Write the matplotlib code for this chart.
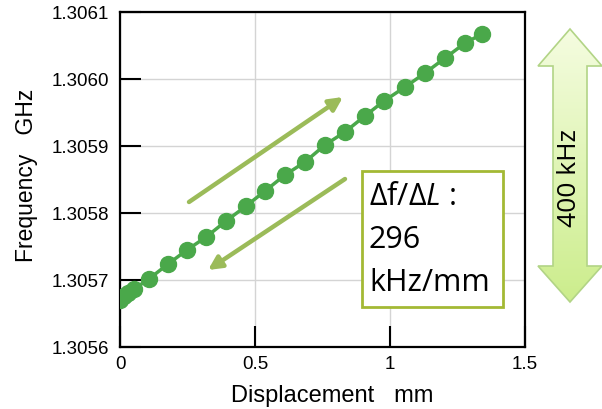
import numpy as np
import matplotlib
matplotlib.use("Agg")
import matplotlib.pyplot as plt
from matplotlib.patches import Polygon, Rectangle, FancyArrowPatch

# ---- data ----
displacement = [0.0, 0.015, 0.03, 0.052, 0.107, 0.178, 0.248, 0.319, 0.393, 0.467,
                0.537, 0.611, 0.685, 0.759, 0.833, 0.907, 0.978, 1.056, 1.130,
                1.204, 1.278, 1.341]
frequency = [1.3056701, 1.3056761, 1.3056806, 1.3056866, 1.3057015, 1.3057239,
             1.3057448, 1.3057642, 1.3057881, 1.3058104, 1.3058328, 1.3058567,
             1.3058761, 1.3059015, 1.3059209, 1.3059448, 1.3059672, 1.3059881,
             1.3060090, 1.3060313, 1.3060537, 1.3060672]
xticks = [0, 0.5, 1, 1.5]
xticklabels = ["0", "0.5", "1", "1.5"]
yticks = [1.3056, 1.3057, 1.3058, 1.3059, 1.3060, 1.3061]
yticklabels = ["1.3056", "1.3057", "1.3058", "1.3059", "1.3060", "1.3061"]
slope_lines = ["296", "kHz/mm"]
span_label = "400 kHz"
xlabel = "Displacement   mm"
ylabel = "Frequency   GHz"

W, H = 602, 410
plt.rcParams['font.family'] = ['Liberation Sans', 'DejaVu Sans']
plt.rcParams['mathtext.fontset'] = 'custom'
plt.rcParams['mathtext.rm'] = 'Open Sans'
plt.rcParams['mathtext.it'] = 'Open Sans:italic'

fig = plt.figure(figsize=(W / 100, H / 100), dpi=100)

def fx(px):
    return px / W

def fy(py):
    return 1 - py / H

ax = fig.add_axes([fx(120), fy(348), fx(525) - fx(120), fy(13) - fy(348)])
ax.set_xlim(0, 1.5)
ax.set_ylim(1.3056, 1.3061)
ax.set_xticks(xticks)
ax.set_xticklabels(xticklabels)
ax.set_yticks(yticks)
ax.set_yticklabels(yticklabels)
ax.grid(True, color="#d4d4d4", linewidth=1.0)
ax.set_axisbelow(True)
ax.tick_params(direction="in", length=15, width=1.5, labelsize=13.5, color="black")
ax.tick_params(axis="y", pad=8)
ax.tick_params(axis="x", pad=6)
for s in ax.spines.values():
    s.set_linewidth(1.6)
fig.text(fx(332), fy(402), xlabel, fontsize=17, ha="center", va="baseline")
fig.text(fx(27), fy(175), ylabel, fontsize=16.5, ha="center", va="center", rotation=90)

ax.plot(displacement, frequency, color="#4aa84a", linewidth=2.5, marker="o",
        markersize=11.5, markerfacecolor="#4aa84a", markeredgecolor="#4aa84a", zorder=3)

# direction arrows (figure pixel coords)
arrow_col = "#9bbb59"
for (x0, y0, x1, y1) in [(189, 203, 343, 98), (345, 180, 208, 271)]:
    a = FancyArrowPatch((fx(x0), fy(y0)), (fx(x1), fy(y1)), transform=fig.transFigure,
                        arrowstyle="-|>,head_length=8,head_width=4", color=arrow_col,
                        linewidth=3.2, mutation_scale=1, shrinkA=0, shrinkB=0, zorder=4)
    fig.patches.append(a)

# text box
box = Rectangle((fx(362), fy(308)), fx(503) - fx(362), fy(172) - fy(308),
                transform=fig.transFigure, facecolor="white", edgecolor="#a3b934",
                linewidth=2.0, zorder=5)
fig.patches.append(box)
fig.text(fx(369), fy(197), r"$\mathrm{\Delta f/\Delta}L$ :", fontsize=22,
         family="Open Sans", va="center", ha="left", zorder=6)
fig.text(fx(369), fy(240), slope_lines[0], fontsize=22, family="Open Sans",
         va="center", ha="left", zorder=6)
fig.text(fx(369), fy(283), slope_lines[1], fontsize=22, family="Open Sans",
         va="center", ha="left", zorder=6)

# double arrow with gradient
pts_px = [(570, 30), (602, 67), (587, 67), (587, 267), (602, 267), (570, 303),
          (538, 267), (553, 267), (553, 67), (538, 67)]
poly = Polygon([(fx(x), fy(y)) for x, y in pts_px], closed=True,
               transform=fig.transFigure, facecolor="none", edgecolor="#b2d486",
               linewidth=1.2, zorder=3)
fig.patches.append(poly)
grad_ax = fig.add_axes([0, 0, 1, 1], zorder=-1)
grad_ax.set_xlim(0, 1)
grad_ax.set_ylim(0, 1)
grad_ax.axis("off")
top = np.array([0.96, 0.99, 0.88])
bot = np.array([0.80, 0.93, 0.55])
t = np.linspace(0, 1, 256)[:, None]
img = (top * (1 - t) + bot * t)[:, None, :]
im = grad_ax.imshow(img, extent=(fx(538), fx(602), fy(303), fy(30)), aspect="auto",
                    transform=grad_ax.transData, zorder=1)
clip = Polygon([(fx(x), fy(y)) for x, y in pts_px], closed=True,
               transform=grad_ax.transData, facecolor="none")
grad_ax.add_patch(clip)
im.set_clip_path(clip)
fig.text(fx(570), fy(178), span_label, fontsize=19, family="Open Sans", rotation=90,
         va="center", ha="center", zorder=6)

fig.savefig("out.png", dpi=100)
